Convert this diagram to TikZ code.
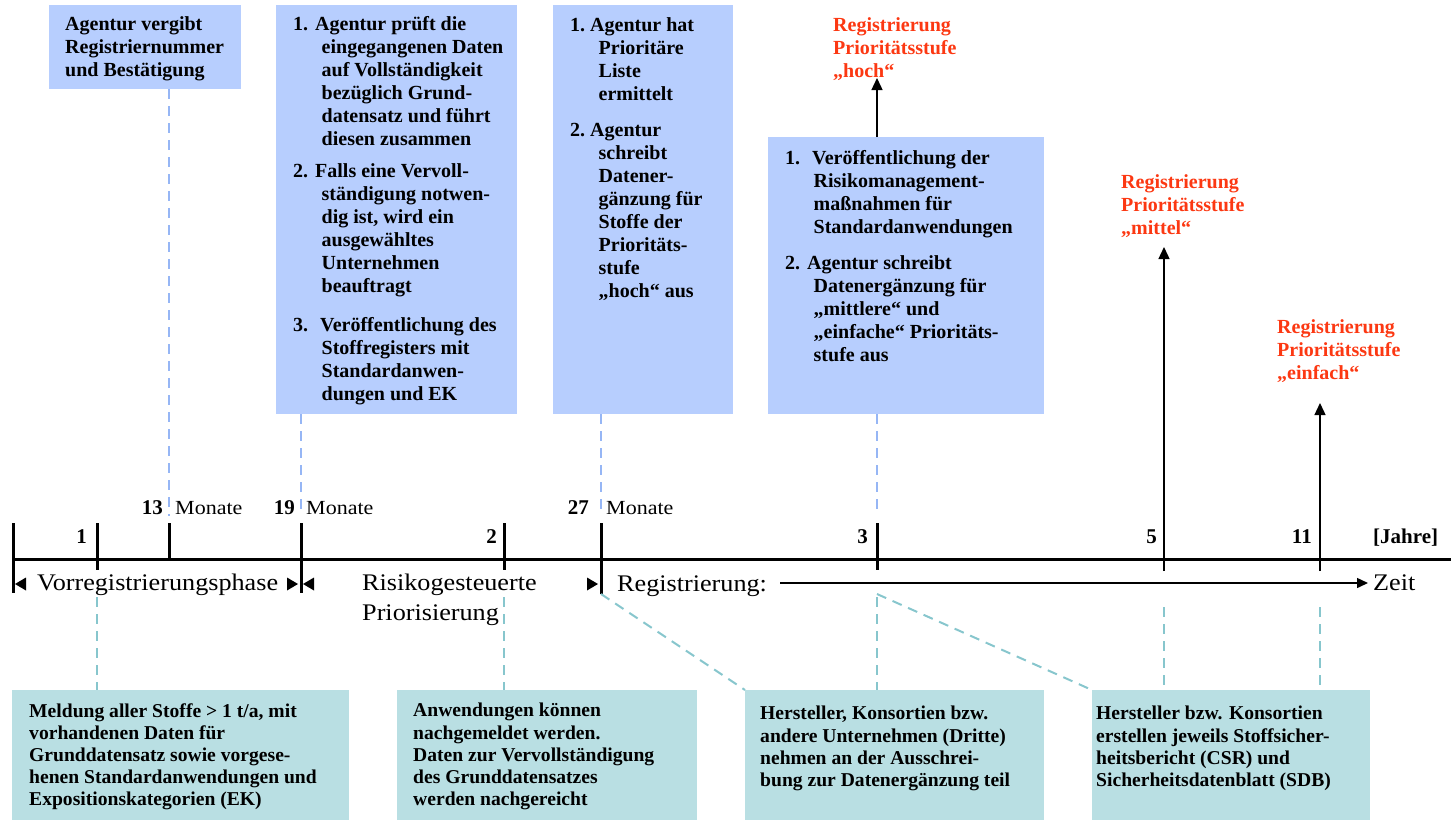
\documentclass[tikz,border=0pt]{standalone}
\usepackage{fontspec}
\setmainfont{Liberation Serif}
\newfontfamily\widefont[FakeStretch=1.1]{Liberation Serif}
\usetikzlibrary{arrows.meta}
\definecolor{topfill}{RGB}{183,206,254}
\definecolor{botfill}{RGB}{185,223,227}
\definecolor{topdash}{RGB}{150,182,245}
\definecolor{botdash}{RGB}{135,198,205}
\definecolor{redtxt}{RGB}{252,56,18}
\newcommand\numl[2]{\makebox[#1][l]{#2}}
\newcommand\hind{\hspace*{28.5pt}}
\begin{document}
\begin{tikzpicture}[x=1pt,y=-1pt,
 boxbase/.style={inner sep=0pt, outer sep=0pt, anchor=north west},
 topbox/.style={boxbase, fill=topfill},
 botbox/.style={boxbase, fill=botfill},
 txt/.style={inner sep=0pt, anchor=north west, align=left, yshift=-6pt, execute at begin node={\rule{0pt}{20pt}}},
 boxtxt/.style={txt, font=\fontsize{20}{23}\selectfont\bfseries},
 bottxt/.style={txt, font=\fontsize{19.6}{22.2}\selectfont\bfseries},
 redlbl/.style={txt, text=redtxt, font=\fontsize{20}{23}\selectfont\bfseries},
 numlbl/.style={inner sep=0pt, font=\fontsize{21}{25}\selectfont\bfseries},
 monlbl/.style={inner sep=0pt, anchor=base west, font=\widefont\fontsize{20}{24}\selectfont},
 phaselbl/.style={inner sep=0pt, font=\widefont\fontsize{23.8}{30}\selectfont},
 axisline/.style={line width=3pt},
 tickline/.style={line width=3pt},
 thinline/.style={line width=1.4pt},
 topcon/.style={draw=topdash, line width=2pt, dash pattern=on 10pt off 7pt},
 botcon/.style={draw=botdash, line width=2pt, dash pattern=on 10pt off 7pt},
 uparrow/.style={line width=1.4pt, -{Triangle[length=12pt,width=11pt]}},
]
\useasboundingbox (0,0) rectangle (1451,820);

% top boxes
\node[topbox, minimum width=192pt, minimum height=84pt] (t1) at (49,5) {};
\node[topbox, minimum width=241pt, minimum height=409pt] (t2) at (276,5) {};
\node[topbox, minimum width=180pt, minimum height=409pt] (t3) at (553,5) {};
\node[topbox, minimum width=276pt, minimum height=277pt] (t4) at (768,137) {};

% bottom boxes
\node[botbox, minimum width=337pt, minimum height=130pt] (b1) at (12,690) {};
\node[botbox, minimum width=300pt, minimum height=130pt] (b2) at (397,690) {};
\node[botbox, minimum width=299pt, minimum height=130pt] (b3) at (745,690) {};
\node[botbox, minimum width=278pt, minimum height=130pt] (b4) at (1092,690) {};

% top texts
\node[boxtxt] (t1x) at (65,10) {Agentur vergibt\\Registriernummer\\und Bestätigung};
\node[boxtxt] (t2x) at (293,10) {\numl{22pt}{1.}Agentur prüft die\\
\hind eingegangenen Daten\\
\hind auf Vollständigkeit\\
\hind bezüglich Grund-\\
\hind datensatz und führt\\
\hind diesen zusammen\\[9pt]
\numl{22pt}{2.}Falls eine Vervoll-\\
\hind ständigung notwen-\\
\hind dig ist, wird ein\\
\hind ausgewähltes\\
\hind Unternehmen\\
\hind beauftragt\\[16pt]
\numl{27pt}{3.}Veröffentlichung des\\
\hind Stoffregisters mit\\
\hind Standardanwen-\\
\hind dungen und EK};
\node[boxtxt] (t3x) at (570,11) {\numl{20pt}{1.}Agentur hat\\
\hind Prioritäre\\
\hind Liste\\
\hind ermittelt\\[13pt]
\numl{20pt}{2.}Agentur\\
\hind schreibt\\
\hind Datener-\\
\hind gänzung für\\
\hind Stoffe der\\
\hind Prioritäts-\\
\hind stufe\\
\hind „hoch“ aus};
\node[boxtxt] (t4x) at (785,144) {\numl{27pt}{1.}Veröffentlichung der\\
\hind Risikomanagement-\\
\hind maßnahmen für\\
\hind Standardanwendungen\\[13pt]
\numl{22pt}{2.}Agentur schreibt\\
\hind Datenergänzung für\\
\hind „mittlere“ und\\
\hind „einfache“ Prioritäts-\\
\hind stufe aus};

% red labels
\node[redlbl] (r1) at (833,11) {Registrierung\\Prioritätsstufe\\„hoch“};
\node[redlbl] (r2) at (1121,168) {Registrierung\\Prioritätsstufe\\„mittel“};
\node[redlbl] (r3) at (1277,313) {Registrierung\\Prioritätsstufe\\„einfach“};

% bottom texts
\node[bottxt] (bt1) at (29,697) {Meldung aller Stoffe > 1 t/a, mit\\vorhandenen Daten für\\Grunddatensatz sowie vorgese-\\henen Standardanwendungen und\\Expositionskategorien (EK)};
\node[bottxt] (bt2) at (413,697) {Anwendungen können\\nachgemeldet werden.\\Daten zur Vervollständigung\\des Grunddatensatzes\\werden nachgereicht};
\node[bottxt] (bt3) at (760,700) {Hersteller, Konsortien bzw.\\andere Unternehmen (Dritte)\\nehmen an der Ausschrei-\\bung zur Datenergänzung teil};
\node[bottxt] (bt4) at (1096,700) {Hersteller bzw. Konsortien\\erstellen jeweils Stoffsicher-\\heitsbericht (CSR) und\\Sicherheitsdatenblatt (SDB)};

% timeline
\coordinate (L) at (12,559);
\coordinate (R) at (1451,559);
\draw[axisline] (L) -- (R);
\coordinate (k0) at (13,523);   \coordinate (k0b) at (13,593);
\coordinate (k1) at (97,523);   \coordinate (k1b) at (97,570);
\coordinate (k13) at (169,523); \coordinate (k13b) at (169,559);
\coordinate (k19) at (301,523); \coordinate (k19b) at (301,593);
\coordinate (k2) at (504,523);  \coordinate (k2b) at (504,570);
\coordinate (k27) at (601,523); \coordinate (k27b) at (601,594);
\coordinate (k3) at (877,523);  \coordinate (k3b) at (877,570);
\draw[tickline] (k0) -- (k0b);
\draw[tickline] (k1) -- (k1b);
\draw[tickline] (k13) -- (k13b);
\draw[tickline] (k19) -- (k19b);
\draw[tickline] (k2) -- (k2b);
\draw[tickline] (k27) -- (k27b);
\draw[tickline] (k3) -- (k3b);

% upward arrows
\coordinate (k5) at (1164,571);  \coordinate (a5) at (1164,247);
\coordinate (k11) at (1320,571); \coordinate (a11) at (1320,403);
\coordinate (a3) at (877,78);
\draw[uparrow] (k5) -- (a5);
\draw[uparrow] (k11) -- (a11);
\draw[uparrow] (t4.north -| k3) -- (a3);

% numbers
\node[numlbl, anchor=base east] (n1) at (87,543) {1};
\node[numlbl, anchor=base east] (n2) at (497,543) {2};
\node[numlbl, anchor=base east] (n3) at (868,543) {3};
\node[numlbl, anchor=base east] (n5) at (1157,543) {5};
\node[numlbl, anchor=base east] (n11) at (1312,543) {11};
\node[numlbl, anchor=base west] (jahre) at (1373,543) {[Jahre]};
\node[numlbl, anchor=base east] (n13) at (163,514) {13};
\node[numlbl, anchor=base east] (n19) at (295,514) {19};
\node[numlbl, anchor=base east] (n27) at (589,514) {27};
\node[monlbl] (m13) at (175,514) {Monate};
\node[monlbl] (m19) at (306,514) {Monate};
\node[monlbl] (m27) at (606,514) {Monate};

% phase labels
\node[phaselbl, anchor=base west] (ph1) at (37,590) {Vorregistrierungsphase};
\node[txt, font=\widefont\fontsize{23.8}{30}\selectfont] (ph2) at (362,568) {Risikogesteuerte\\Priorisierung};
\node[phaselbl, anchor=base west] (ph3) at (617,591) {Registrierung:};
\node[phaselbl, anchor=base west] (zeit) at (1373,590) {Zeit};
\coordinate (z0) at (780,583);
\coordinate (zt) at (1368,583);
\draw[thinline, -{Triangle[length=11pt,width=10pt]}] (z0) -- (zt);

% phase arrowheads
\fill (15,584) -- (26,577.5) -- (26,590.5) -- cycle;
\fill (298,584) -- (287,577.5) -- (287,590.5) -- cycle;
\fill (303,584) -- (314,577.5) -- (314,590.5) -- cycle;
\fill (598,584) -- (587,577.5) -- (587,590.5) -- cycle;

% dashed connectors (top)
\coordinate (d13) at (169,516);
\coordinate (d19) at (301,516);
\coordinate (d27) at (601,516);
\coordinate (d3) at (877,516);
\draw[topcon] (t1.south -| d13) -- (d13);
\draw[topcon] (t2.south -| d19) -- (d19);
\draw[topcon] (t3.south -| d27) -- (d27);
\draw[topcon] (t4.south -| d3) -- (d3);

% dashed connectors (bottom)
\coordinate (e1) at (97,597);
\coordinate (e2) at (504,597);
\coordinate (e27) at (601,594);
\coordinate (e3) at (877,597);
\coordinate (e3d) at (877,594);
\coordinate (e5) at (1164,607);
\coordinate (e11) at (1320,607);
\draw[botcon] (e1) -- (b1.north -| e1);
\draw[botcon] (e2) -- (b2.north -| e2);
\draw[botcon] (e27) -- (b3.north west);
\draw[botcon] (e3) -- (b3.north -| e3);
\draw[botcon] (e3d) -- (b4.north west);
\draw[botcon] (e5) -- (b4.north -| e5);
\draw[botcon] (e11) -- (b4.north -| e11);
\end{tikzpicture}
\end{document}
